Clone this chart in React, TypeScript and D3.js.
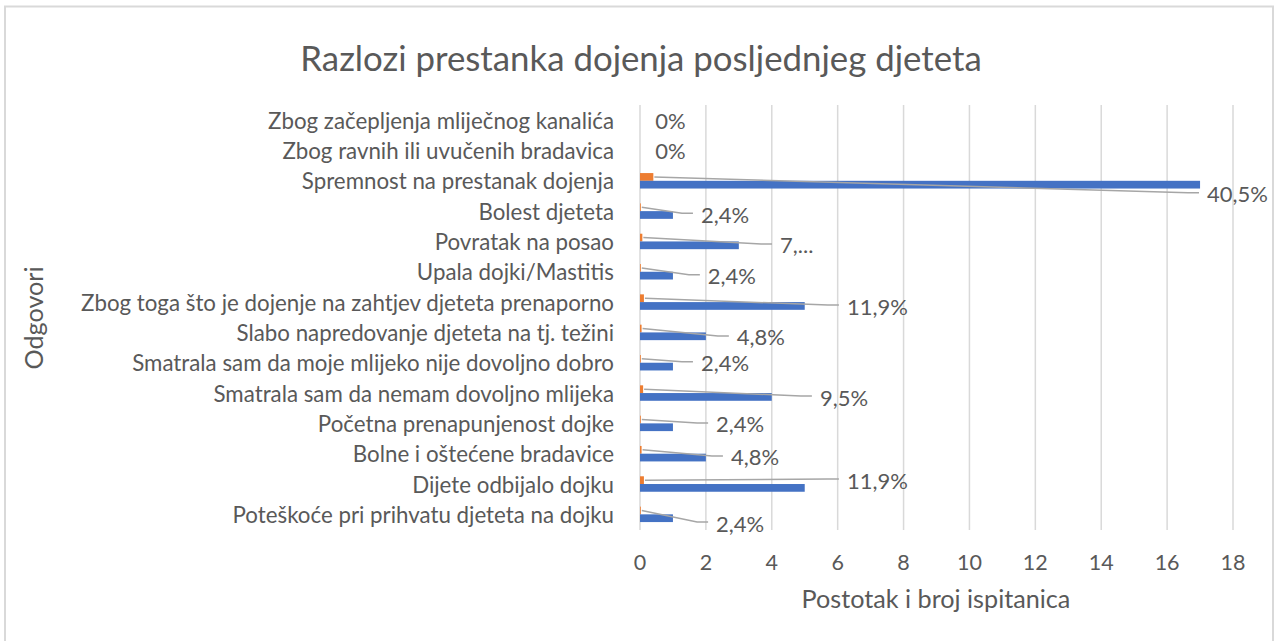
import React from 'react';
import * as d3 from 'd3';

const categories = [
  'Zbog začepljenja mliječnog kanalića',
  'Zbog ravnih ili uvučenih bradavica',
  'Spremnost na prestanak dojenja',
  'Bolest djeteta',
  'Povratak na posao',
  'Upala dojki/Mastitis',
  'Zbog toga što je dojenje na zahtjev djeteta prenaporno',
  'Slabo napredovanje djeteta na tj. težini',
  'Smatrala sam da moje mlijeko nije dovoljno dobro',
  'Smatrala sam da nemam dovoljno mlijeka',
  'Početna prenapunjenost dojke',
  'Bolne i oštećene bradavice',
  'Dijete odbijalo dojku',
  'Poteškoće pri prihvatu djeteta na dojku',
];
const counts = [0, 0, 17, 1, 3, 1, 5, 2, 1, 4, 1, 2, 5, 1];
const shares = [0, 0, 0.405, 0.024, 0.071, 0.024, 0.119, 0.048, 0.024, 0.095, 0.024, 0.048, 0.119, 0.024];
const shareLabels = ['0%', '0%', '40,5%', '2,4%', '7,...', '2,4%', '11,9%', '4,8%', '2,4%', '9,5%', '2,4%', '4,8%', '11,9%', '2,4%'];
const xTicks = [0, 2, 4, 6, 8, 10, 12, 14, 16, 18];

// data-label placement (label left edge in axis units, vertical offset in px)
const labelX = [0.46, 0.46, 17.21, 1.85, 4.25, 2.06, 6.28, 2.94, 1.85, 5.46, 2.31, 2.76, 6.28, 2.31];
const labelDy = [0, 0, 13, 3, 3.5, 4, 4, 4.5, 0, 4, 0.6, 3.3, -4, 8.7];
const hasLeader = [false, false, true, true, true, true, true, true, true, true, true, true, true, true];

const W = 1277;
const H = 641;
const FONT = 'Lato, "Open Sans", sans-serif';
const TXT = '#595959';

export default function App() {
  const x = d3.scaleLinear().domain([0, 18]).range([640, 1233]);
  const y = d3.scaleBand<string>().domain(categories).range([105, 529.5]).paddingInner(0.49).paddingOuter(0.245);
  const sub = d3.scaleBand<string>().domain(['share', 'count']).range([0, y.bandwidth()]);

  return (
    <div style={{ position: 'absolute', left: 0, top: 0 }}>
      <svg width={W} height={H} style={{ display: 'block', fontFamily: FONT }}>
        <rect x={0} y={0} width={W} height={H} fill="#fff" />
        <rect x={5} y={6.5} width={1268} height={660} fill="#fff" stroke="#d9d9d9" strokeWidth={2} />
        <text x={641} y={57} textAnchor="middle" dominantBaseline="central" fontSize={34.8} fill={TXT}>
          Razlozi prestanka dojenja posljednjeg djeteta
        </text>
        {xTicks.map((t) => (
          <g key={t}>
            <line x1={x(t)} x2={x(t)} y1={105} y2={530} stroke="#d9d9d9" strokeWidth={1.5} />
            <text x={x(t)} y={562} textAnchor="middle" dominantBaseline="central" fontSize={21.5} fill={TXT}>
              {t}
            </text>
          </g>
        ))}
        {categories.map((c, i) => {
          const y0 = y(c)!;
          const cy = y0 + y.bandwidth() / 2;
          return (
            <g key={c}>
              <text x={614} y={cy} textAnchor="end" dominantBaseline="central" fontSize={22.3} fill={TXT}>
                {c}
              </text>
              <rect x={x(0)} y={y0 + sub('share')!} width={x(shares[i]) - x(0)} height={sub.bandwidth()} fill="#ED7D31" />
              <rect x={x(0)} y={y0 + sub('count')!} width={x(counts[i]) - x(0)} height={sub.bandwidth()} fill="#4472C4" />
            </g>
          );
        })}
        {categories.map((c, i) => {
          const y0 = y(c)!;
          const cy = y0 + y.bandwidth() / 2;
          const sy = y0 + sub('share')! + sub.bandwidth() / 2;
          const lx = x(labelX[i]);
          const ly = cy + labelDy[i];
          return (
            <g key={'l' + c}>
              {hasLeader[i] && (
                <polyline
                  points={`${x(shares[i]) + 1},${sy} ${lx - 19},${ly - 1} ${lx - 8},${ly - 1}`}
                  fill="none"
                  stroke="#a6a6a6"
                  strokeWidth={1.5}
                />
              )}
              <text x={lx} y={ly} dominantBaseline="central" fontSize={22} fill={TXT}>
                {shareLabels[i]}
              </text>
            </g>
          );
        })}
        <text x={936} y={598} textAnchor="middle" dominantBaseline="central" fontSize={25.2} fill={TXT}>
          Postotak i broj ispitanica
        </text>
        <text
          transform="translate(33,318) rotate(-90)"
          textAnchor="middle"
          dominantBaseline="central"
          fontSize={25.2}
          fill={TXT}
        >
          Odgovori
        </text>
      </svg>
    </div>
  );
}
